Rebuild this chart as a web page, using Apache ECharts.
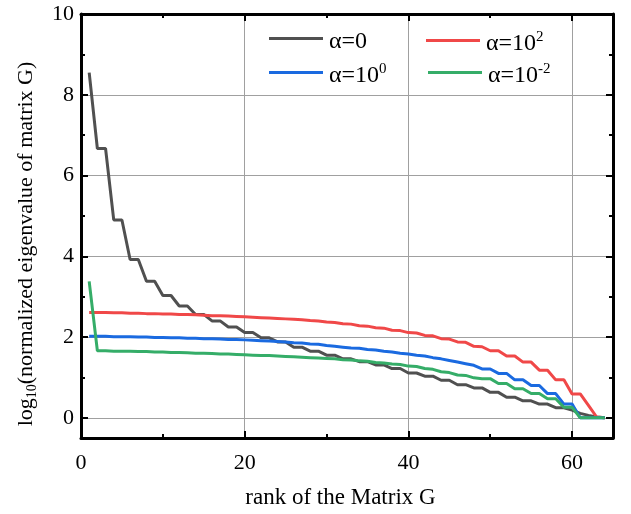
<!DOCTYPE html>
<html><head><meta charset="utf-8">
<script src="https://cdn.jsdelivr.net/npm/echarts@6/dist/echarts.min.js"></script>
<style>html,body{margin:0;padding:0;background:#fff}#c{width:631px;height:514px}</style>
</head><body><div id="c"></div>
<script>
// rank index (x)
const ranks = [1,2,3,4,5,6,7,8,9,10,11,12,13,14,15,16,17,18,19,20,21,22,23,24,25,26,27,28,29,30,31,32,
  33,34,35,36,37,38,39,40,41,42,43,44,45,46,47,48,49,50,51,52,53,54,55,56,57,58,59,60,61,62,63,64];
// alpha = 0
const alpha0 = [8.55,6.67,6.67,4.90,4.90,3.92,3.92,3.38,3.38,3.03,3.03,2.77,2.77,2.56,2.56,2.40,2.40,2.25,2.25,
  2.11,2.11,1.98,1.98,1.88,1.88,1.75,1.75,1.65,1.65,1.55,1.55,1.46,1.46,1.39,1.39,1.31,1.31,1.22,1.22,
  1.11,1.11,1.03,1.03,0.93,0.93,0.82,0.82,0.74,0.74,0.63,0.63,0.51,0.51,0.42,0.42,0.34,0.34,0.25,0.25,
  0.19,0.11,0.06,0.02,0.00];
// alpha = 10^2
const alpha1e2 = [2.61,2.61,2.61,2.60,2.60,2.59,2.59,2.58,2.58,2.57,2.57,2.56,2.56,2.55,2.54,2.53,2.53,2.52,2.51,
  2.50,2.49,2.48,2.47,2.46,2.45,2.44,2.43,2.41,2.40,2.37,2.36,2.33,2.32,2.28,2.27,2.23,2.22,2.17,2.16,
  2.11,2.10,2.04,2.03,1.96,1.95,1.88,1.87,1.77,1.76,1.66,1.66,1.53,1.53,1.38,1.38,1.18,1.18,0.94,0.94,
  0.59,0.59,0.31,0.02,0.00];
// alpha = 10^0
const alpha1e0 = [2.02,2.02,2.02,2.01,2.01,2.01,2.00,2.00,1.99,1.99,1.98,1.98,1.97,1.97,1.96,1.96,1.95,1.94,1.94,
  1.93,1.92,1.91,1.90,1.89,1.88,1.86,1.85,1.83,1.82,1.79,1.77,1.75,1.73,1.72,1.69,1.68,1.65,1.63,1.60,
  1.58,1.55,1.53,1.49,1.46,1.42,1.38,1.34,1.30,1.21,1.21,1.10,1.10,0.94,0.94,0.80,0.80,0.60,0.60,0.34,
  0.34,0.00,0.00,0.00,0.00];
// alpha = 10^-2
const alpha1em2 = [3.38,1.66,1.66,1.65,1.65,1.65,1.64,1.64,1.63,1.63,1.62,1.62,1.61,1.60,1.60,1.59,1.58,1.58,1.57,
  1.56,1.55,1.54,1.54,1.53,1.52,1.51,1.50,1.49,1.48,1.47,1.46,1.44,1.43,1.41,1.40,1.37,1.36,1.33,1.32,
  1.28,1.27,1.22,1.20,1.14,1.12,1.06,1.05,0.99,0.97,0.97,0.85,0.85,0.72,0.72,0.60,0.60,0.47,0.47,0.26,
  0.26,0.00,0.00,0.00,0.00];
const seriesNames = ['α=0','α=10^2','α=10^0','α=10^-2'];
const xMajor = [0,20,40,60], xMinor = [10,30,50];
const yMajor = [0,2,4,6,8,10], yMinor = [1,3,5,7,9];
const xTitle = 'rank of the Matrix G';

const FONT = "'Liberation Serif','Times New Roman',serif";
const pair = (ys) => ranks.map((x, i) => [x, ys[i]]);

function xAx(pos, ticks, len, main) {
  return {
    type: 'value', position: pos, min: 0, max: 65,
    axisLine: { show: main, onZero: false, lineStyle: { color: '#000', width: 3 } },
    axisTick: { show: true, inside: true, customValues: ticks, length: len, lineStyle: { color: '#000', width: 2 } },
    axisLabel: { show: false },
    splitLine: { show: false }
  };
}
function yAx(pos, ticks, len, main) {
  return {
    type: 'value', position: pos, min: -0.5, max: 10,
    axisLine: { show: main, onZero: false, lineStyle: { color: '#000', width: 3 } },
    axisTick: { show: true, inside: true, customValues: ticks, length: len, lineStyle: { color: '#000', width: 2 } },
    axisLabel: { show: false },
    splitLine: { show: false }
  };
}
const xb = xAx('bottom', xMajor, 7, true);
xb.axisLabel = { show: true, customValues: xMajor, fontFamily: FONT, fontSize: 22, color: '#000', margin: 14 };
xb.splitLine = { show: true, lineStyle: { color: '#a0a0a0', width: 1 } };
xb.name = xTitle; xb.nameLocation = 'middle'; xb.nameGap = 48;
xb.nameTextStyle = { fontFamily: FONT, fontSize: 23, color: '#000', padding: [0, 13, 0, 0] };
const yl = yAx('left', yMajor, 7, true);
yl.axisLabel = { show: true, customValues: yMajor, fontFamily: FONT, fontSize: 22, color: '#000', margin: 7 };
yl.splitLine = { show: true, lineStyle: { color: '#a0a0a0', width: 1 } };
yl.name = '{a|log}{s|10}{a|(normalized eigenvalue of matrix G)}';
yl.nameLocation = 'middle'; yl.nameGap = 42; yl.nameRotate = 90;
yl.nameTextStyle = { fontFamily: FONT, fontSize: 22, color: '#000', padding: [0, 36, 0, 0],
  rich: { a: { fontFamily: FONT, fontSize: 22, color: '#000', lineHeight: 26, verticalAlign: 'middle' },
          s: { fontFamily: FONT, fontSize: 14, color: '#000', lineHeight: 26, verticalAlign: 'bottom' } } };

const legRich = {
  b: { fontFamily: FONT, fontSize: 24, color: '#000', lineHeight: 26, verticalAlign: 'bottom' },
  p: { fontFamily: FONT, fontSize: 15, color: '#000', lineHeight: 26, verticalAlign: 'top' }
};
function legFmt(n) {
  if (n === 'α=0') return '{b|α=0}';
  const m = n.split('^');
  return '{b|' + m[0] + '}{p|' + m[1] + '}';
}
function leg(name, left, top) {
  return { data: [name], left: left, top: top, orient: 'vertical', padding: 0,
    icon: 'rect', itemWidth: 54, itemHeight: 3, selectedMode: false,
    formatter: legFmt, textStyle: { fontFamily: FONT, fontSize: 24, color: '#000', padding: [5, 0, 0, 1], rich: legRich } };
}
const colors = ['#505050', '#f04848', '#1a6ae0', '#35ad68'];
const vals = [alpha0, alpha1e2, alpha1e0, alpha1em2];

const chart = echarts.init(document.getElementById('c'));
chart.setOption({
  animation: false,
  grid: { left: 81, right: 18, top: 14, bottom: 72 },
  xAxis: [xb, xAx('bottom', xMinor, 4, false), xAx('top', xMajor, 7, true), xAx('top', xMinor, 4, false)],
  yAxis: [yl, yAx('left', yMinor, 4, false), yAx('right', yMajor, 7, true), yAx('right', yMinor, 4, false)],
  legend: [leg(seriesNames[0], 269, 30), leg(seriesNames[2], 269, 62), leg(seriesNames[1], 426, 30), leg(seriesNames[3], 428, 62)],
  series: seriesNames.map((n, i) => ({
    name: n, type: 'line', xAxisIndex: 0, yAxisIndex: 0, data: pair(vals[i]),
    showSymbol: false, symbol: 'none', color: colors[i],
    lineStyle: { color: colors[i], width: 3 }
  }))
});
</script></body></html>
